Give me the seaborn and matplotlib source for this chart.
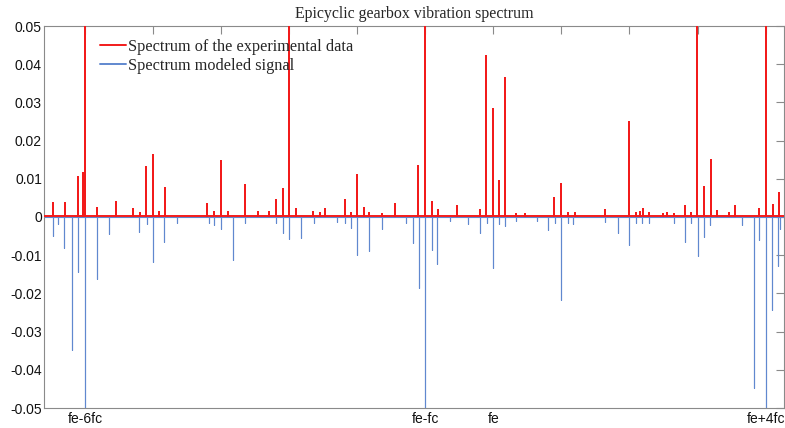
import numpy as np
import pandas as pd
import seaborn as sns
from matplotlib import pyplot as plt

# Frequencies in units of fc, relative to the mesh frequency fe
exp_freq = [-6.47, -6.29, -6.10, -6.02, -6.00, -5.82, -5.54, -5.29, -5.19, -5.10,
            -5.00, -4.91, -4.82, -4.20, -4.10, -4.00, -3.89, -3.65, -3.46, -3.29,
            -3.19, -3.09, -3.00, -2.90, -2.65, -2.54, -2.47, -2.18, -2.09, -2.00,
            -1.90, -1.82, -1.64, -1.45, -1.10, -1.00, -0.90, -0.81, -0.54, -0.19,
            -0.11, 0.00, 0.08, 0.17, 0.34, 0.46, 0.89, 0.99, 1.09, 1.20,
            1.64, 2.00, 2.10, 2.15, 2.20, 2.29, 2.49, 2.55, 2.65, 2.82,
            2.90, 2.99, 3.10, 3.20, 3.29, 3.46, 3.55, 3.91, 4.01, 4.11, 4.20]
exp_amp = [0.0033, 0.0033, 0.0101, 0.0112, 0.0800, 0.0021, 0.0037, 0.0018, 0.0007, 0.0128,
           0.0160, 0.0011, 0.0074, 0.0031, 0.0010, 0.0143, 0.0010, 0.0080, 0.0009, 0.0010,
           0.0041, 0.0069, 0.0800, 0.0017, 0.0010, 0.0008, 0.0017, 0.0041, 0.0008, 0.0107,
           0.0021, 0.0008, 0.0006, 0.0030, 0.0131, 0.0800, 0.0035, 0.0016, 0.0027, 0.0016,
           0.0419, 0.0280, 0.0091, 0.0361, 0.0006, 0.0006, 0.0048, 0.0084, 0.0008, 0.0007,
           0.0016, 0.0246, 0.0008, 0.0010, 0.0018, 0.0008, 0.0006, 0.0008, 0.0006, 0.0026,
           0.0008, 0.0800, 0.0075, 0.0147, 0.0012, 0.0008, 0.0026, 0.0019, 0.0800, 0.0029, 0.0061]

mod_freq = [-6.47, -6.39, -6.30, -6.19, -6.10, -6.00, -5.82, -5.65, -5.20, -5.09,
            -5.00, -4.83, -4.65, -4.18, -4.11, -4.00, -3.83, -3.65, -3.19, -3.09,
            -3.00, -2.82, -2.64, -2.29, -2.18, -2.09, -2.00, -1.82, -1.64, -1.28,
            -1.18, -1.09, -1.00, -0.90, -0.82, -0.64, -0.37, -0.19, -0.10, 0.00,
            0.09, 0.17, 0.34, 0.64, 0.81, 0.90, 0.99, 1.09, 1.17, 1.64,
            1.83, 2.00, 2.10, 2.18, 2.29, 2.65, 2.82, 2.91, 3.00, 3.10,
            3.19, 3.65, 3.83, 3.91, 4.01, 4.10, 4.18, 4.21]
mod_amp = [0.0050, 0.0018, 0.0080, 0.0348, 0.0144, 0.0800, 0.0161, 0.0044, 0.0040, 0.0018,
           0.0118, 0.0065, 0.0015, 0.0015, 0.0020, 0.0031, 0.0113, 0.0015, 0.0015, 0.0042,
           0.0057, 0.0054, 0.0015, 0.0012, 0.0015, 0.0028, 0.0099, 0.0090, 0.0032, 0.0015,
           0.0067, 0.0186, 0.0800, 0.0087, 0.0122, 0.0010, 0.0019, 0.0042, 0.0015, 0.0133,
           0.0019, 0.0024, 0.0010, 0.0010, 0.0035, 0.0015, 0.0218, 0.0015, 0.0019, 0.0013,
           0.0042, 0.0074, 0.0015, 0.0015, 0.0015, 0.0015, 0.0065, 0.0015, 0.0103, 0.0052,
           0.0022, 0.0022, 0.0447, 0.0061, 0.0800, 0.0243, 0.0128, 0.0031]

xtick_pos = [-6, -5, -4, -3, -2, -1, 0, 1, 2, 3, 4]
xtick_labels = ["fe-6fc", "", "", "", "", "fe-fc", "fe", "", "", "", "fe+4fc"]
ytick_pos = [-0.05, -0.04, -0.03, -0.02, -0.01, 0, 0.01, 0.02, 0.03, 0.04, 0.05]
ytick_labels = ["-0.05", "-0.04", "-0.03", "-0.02", "-0.01", "0", "0.01", "0.02", "0.03", "0.04", "0.05"]


def stick_series(freq, amp, base, sign):
    # spectrum drawn as one polyline: baseline -> peak -> baseline
    xs, ys = [freq[0] - 1.0], [base]
    for f, a in sorted(zip(freq, amp)):
        xs += [f, f, f]
        ys += [base, base + sign * a, base]
    xs.append(freq[-1] + 1.0)
    ys.append(base)
    return pd.DataFrame({"x": xs, "y": ys})


exp_df = stick_series(exp_freq, exp_amp, 0.0003, 1)
mod_df = stick_series(mod_freq, mod_amp, 0.0, -1)

sns.set_style("white")
plt.rcParams["font.family"] = ["Liberation Sans", "DejaVu Sans"]
serif = ["Liberation Serif", "DejaVu Serif"]

fig = plt.figure(figsize=(7.85, 4.28), dpi=100)
ax = fig.add_axes([44 / 785, 20 / 428, 740 / 785, 382 / 428])

sns.lineplot(data=exp_df, x="x", y="y", sort=False, estimator=None, ax=ax,
             color="#f21b1b", linewidth=1.4, label="Spectrum of the experimental data", zorder=3)
sns.lineplot(data=mod_df, x="x", y="y", sort=False, estimator=None, ax=ax,
             color="#6088cf", linewidth=0.8, label="Spectrum modeled signal", zorder=2)

ax.set_xlim(-6.60, 4.27)
ax.set_ylim(-0.05, 0.05)
ax.set_xticks(xtick_pos)
ax.set_xticklabels(xtick_labels)
ax.set_yticks(ytick_pos)
ax.set_yticklabels(ytick_labels)
ax.set_xlabel("")
ax.set_ylabel("")
ax.tick_params(direction="in", top=True, right=True, length=6, width=0.8,
               color="#8a8a8a", labelsize=10, labelcolor="#111111")
ax.tick_params(axis="y", pad=1.5)
ax.tick_params(axis="x", pad=3)
for s in ax.spines.values():
    s.set_color("#8a8a8a")
    s.set_linewidth(0.8)

ax.set_title("Epicyclic gearbox vibration spectrum", fontsize=11.4, family=serif, pad=6)

leg = ax.legend(loc="upper left", bbox_to_anchor=(0.0757, 0.967), frameon=False,
                prop={"family": serif, "size": 11.7},
                handlelength=1.6, handletextpad=0.12, labelspacing=0.2,
                borderaxespad=0, borderpad=0)
for line in leg.get_lines():
    line.set_linewidth(1.4)

fig.savefig("out.png", dpi=100)
